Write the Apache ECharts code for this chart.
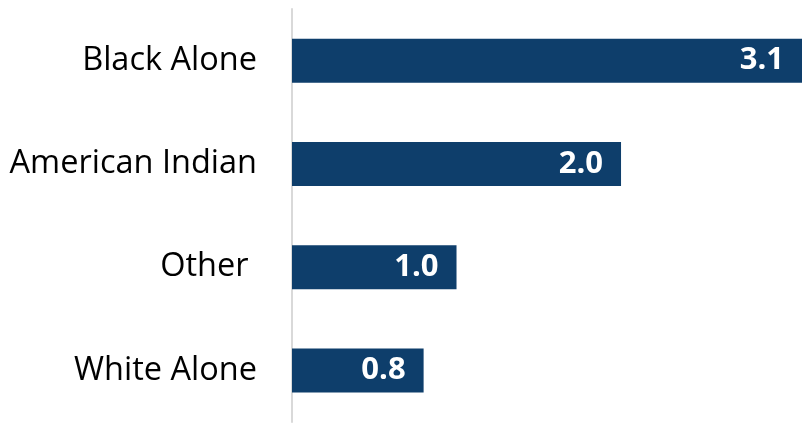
<!DOCTYPE html>
<html><head><meta charset="utf-8">
<script src="https://cdn.jsdelivr.net/npm/echarts@6/dist/echarts.min.js"></script>
<style>html,body{margin:0;padding:0;background:#fff}#c{width:808px;height:426px}</style>
</head><body><div id="c"></div>
<script>
const categories = ["Black Alone", "American Indian", "Other ", "White Alone"];
const values = [3.1, 2.0, 1.0, 0.8];

const chart = echarts.init(document.getElementById('c'), null, {renderer: 'canvas'});
chart.setOption({
  animation: false,
  grid: {left: 292, width: 510, top: 9, height: 413, containLabel: false},
  xAxis: {type: 'value', min: 0, max: 3.1, show: false},
  yAxis: {
    type: 'category', data: categories, inverse: true,
    axisLine: {show: true, lineStyle: {color: '#d9d9d9', width: 2}},
    axisTick: {show: false},
    axisLabel: {margin: 35, fontSize: 32.5, color: '#000', fontFamily: 'Open Sans'}
  },
  series: [{
    type: 'bar', data: values, barWidth: 44,
    itemStyle: {color: '#0e3e6b'},
    label: {show: true, position: 'insideRight', distance: 18, color: '#fff',
      fontSize: 31, fontWeight: 'bold', fontFamily: 'Open Sans',
      formatter: p => p.value.toFixed(1)}
  }]
});
</script></body></html>
